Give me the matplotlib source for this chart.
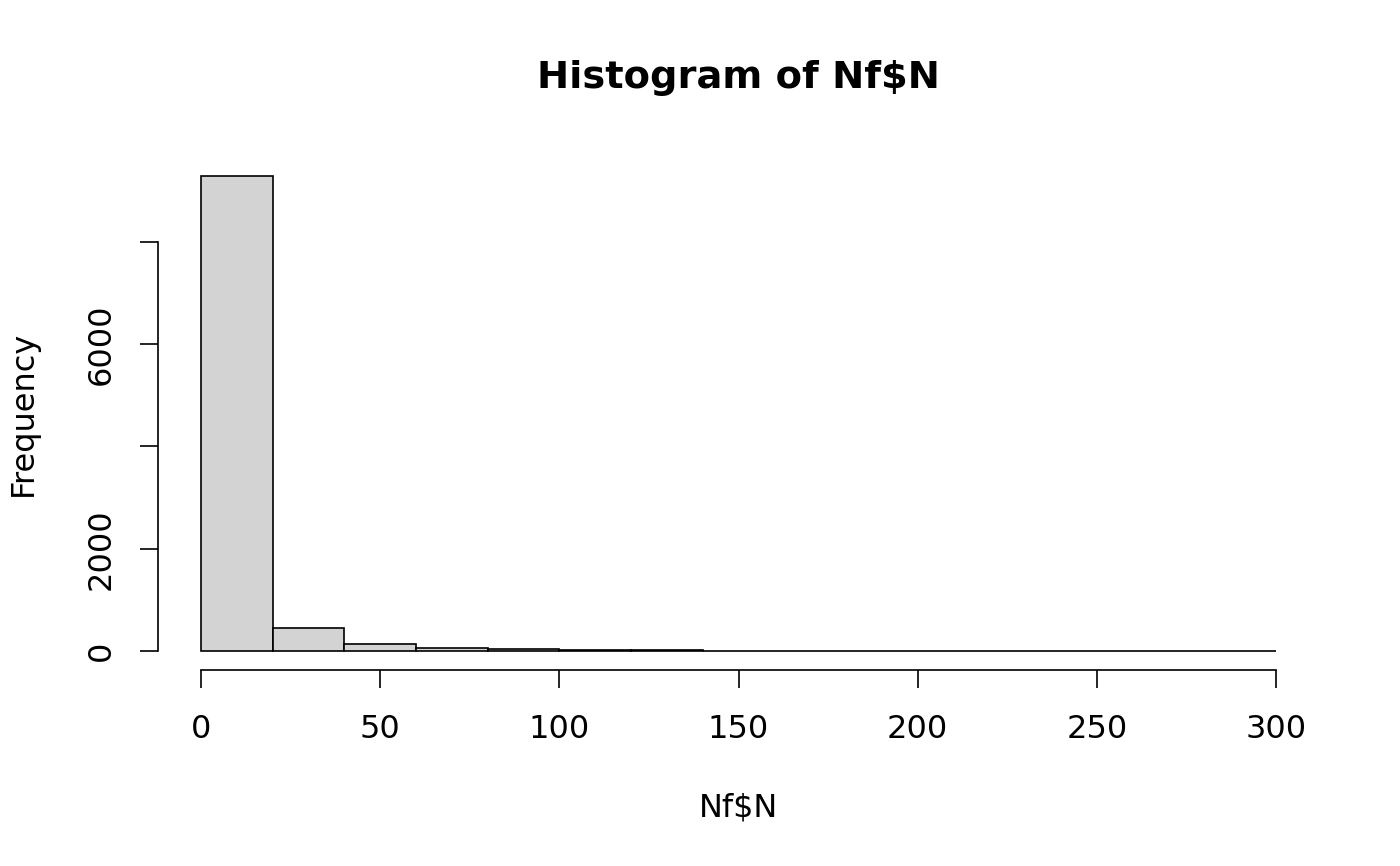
import numpy as np
import matplotlib.pyplot as plt

# histogram of Nf$N, bins of width 20
bin_edges = [0, 20, 40, 60, 80, 100, 120, 140, 160, 180, 200, 220, 240, 260, 280, 300]
counts = [9290, 450, 143, 65, 39, 20, 11, 7, 5, 3, 2, 2, 1, 1, 2]
yticks = [0, 2000, 4000, 6000, 8000]
ytick_labels = ['0', '2000', '', '6000', '']
xticks = [0, 50, 100, 150, 200, 250, 300]

plt.rcParams['font.family'] = 'DejaVu Sans'
fig = plt.figure(figsize=(7, 4.33), dpi=200)
ax = fig.add_axes([158 / 1400, 1 - 670 / 866, (1319 - 158) / 1400, (670 - 157) / 866])

left = np.array(bin_edges[:-1])
width = np.diff(bin_edges)
ax.bar(left, counts, width=width, align='edge', color='#D3D3D3',
       edgecolor='black', linewidth=0.6)

ymax = max(counts)
ax.set_xlim(-0.04 * 300, 300 * 1.04)
ax.set_ylim(-0.04 * ymax, ymax * 1.04)

for s in ['top', 'right']:
    ax.spines[s].set_visible(False)
ax.spines['left'].set_bounds(0, 8000)
ax.spines['bottom'].set_bounds(0, 300)
ax.spines['left'].set_linewidth(0.6)
ax.spines['bottom'].set_linewidth(0.6)

ax.set_xticks(xticks)
ax.set_xticklabels([str(t) for t in xticks])
ax.set_yticks(yticks)
ax.set_yticklabels(ytick_labels, rotation=90, va='center')
ax.tick_params(axis='both', length=6.5, width=0.6, labelsize=11.5)
ax.tick_params(axis='x', pad=9.5)
ax.tick_params(axis='y', pad=8.3)

ax.set_xlabel(r'Nf\$N', fontsize=11.5, labelpad=17)
ax.set_ylabel('Frequency', fontsize=11.5, labelpad=17)
ax.set_title(r'Histogram of Nf\$N', fontsize=13.8, fontweight='bold', pad=25)

fig.savefig('out.png', dpi=200)
